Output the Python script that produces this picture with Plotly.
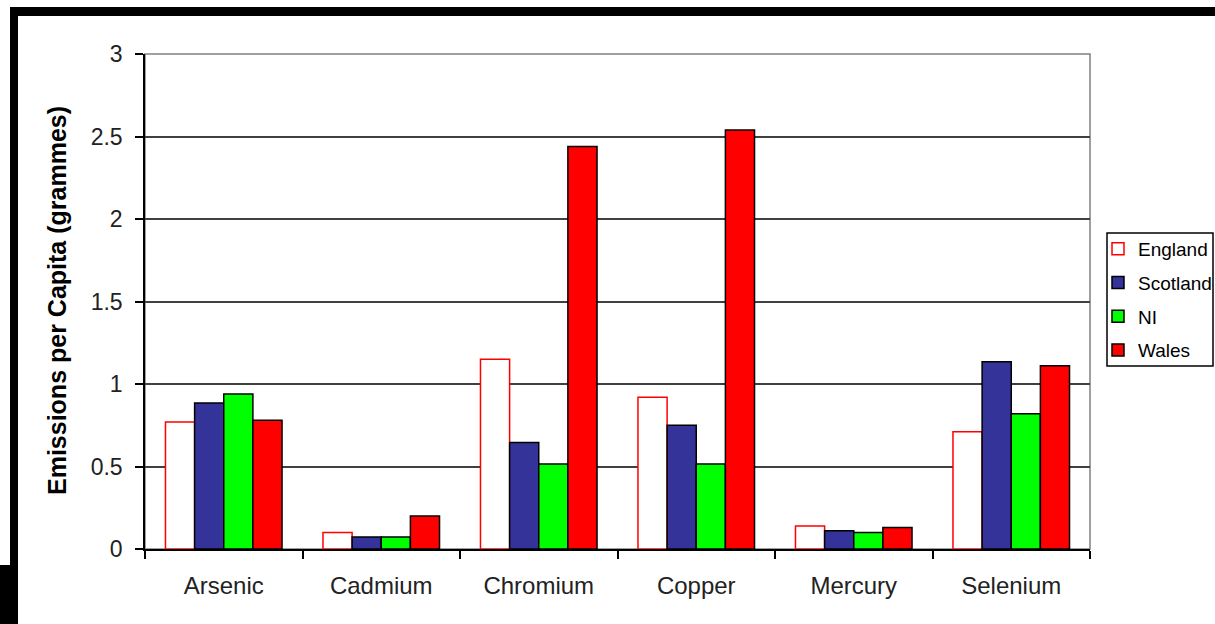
import plotly.graph_objects as go

categories = ["Arsenic", "Cadmium", "Chromium", "Copper", "Mercury", "Selenium"]
england = [0.77, 0.10, 1.15, 0.92, 0.14, 0.71]
scotland = [0.885, 0.073, 0.645, 0.75, 0.11, 1.135]
ni = [0.94, 0.073, 0.515, 0.515, 0.10, 0.82]
wales = [0.78, 0.20, 2.44, 2.54, 0.13, 1.11]
y_ticks = [0, 0.5, 1, 1.5, 2, 2.5, 3]
y_tick_labels = ["0", "0.5", "1", "1.5", "2", "2.5", "3"]

FONT = "Liberation Sans, Arial, sans-serif"

series = [
    ("England", england, "#FFFFFF", "#FF0000"),
    ("Scotland", scotland, "#333399", "#000000"),
    ("NI", ni, "#00FF00", "#000000"),
    ("Wales", wales, "#FF0000", "#000000"),
]

fig = go.Figure()
for name, vals, fill, edge in series:
    fig.add_trace(go.Bar(
        x=categories, y=vals, name=name, legendgroup=name,
        marker=dict(color=fill, line=dict(color=edge, width=1.5)),
    ))

W, H = 1215, 624

# page coordinates -> paper coordinates (plot area spans page x 145..1090, y 54..549)
def px(x):
    return (x - 145) / 945

def py(y):
    return (549 - y) / 495

shapes = [
    dict(type="rect", xref="paper", yref="paper", x0=0, x1=1, y0=0, y1=1,
         line=dict(color="#808080", width=1.5), layer="below"),
    dict(type="rect", xref="paper", yref="paper", x0=px(10), x1=px(1220),
         y0=py(16), y1=py(7), fillcolor="black", line=dict(width=0)),
    dict(type="rect", xref="paper", yref="paper", x0=px(10), x1=px(18),
         y0=py(630), y1=py(7), fillcolor="black", line=dict(width=0)),
    dict(type="rect", xref="paper", yref="paper", x0=px(-2), x1=px(18),
         y0=py(630), y1=py(565), fillcolor="black", line=dict(width=0)),
    dict(type="rect", xref="paper", yref="paper", x0=px(1107), x1=px(1213),
         y0=py(366), y1=py(233), line=dict(color="black", width=1.5),
         fillcolor="rgba(0,0,0,0)"),
]

fig.update_layout(
    width=W, height=H,
    margin=dict(l=145, r=125, t=54, b=75, autoexpand=False),
    paper_bgcolor="white", plot_bgcolor="white",
    barmode="group", bargap=0.26, bargroupgap=0,
    font=dict(family=FONT, size=20, color="black"),
    showlegend=True,
    legend=dict(xref="container", yref="container",
                x=1098 / W, y=1 - 230 / H,
                xanchor="left", yanchor="top",
                bgcolor="rgba(0,0,0,0)", borderwidth=0,
                font=dict(family=FONT, size=19, color="black"),
                traceorder="grouped", tracegroupgap=6, itemwidth=30),
    shapes=shapes,
    annotations=[dict(text="<b>Emissions per Capita (grammes)</b>",
                      xref="paper", yref="paper", x=px(57), y=py(301),
                      textangle=-90, showarrow=False, xanchor="center", yanchor="middle",
                      font=dict(family=FONT, size=25, color="black"))],
    xaxis=dict(
        showline=True, linecolor="black", linewidth=1.5,
        ticks="outside", ticklen=8, tickcolor="black", tickwidth=1.5,
        tickson="boundaries", showgrid=False, ticklabelstandoff=14,
        tickfont=dict(family=FONT, size=24, color="#222222"),
    ),
    yaxis=dict(
        range=[0, 3], tickvals=y_ticks, ticktext=y_tick_labels,
        showline=True, linecolor="black", linewidth=1.5,
        ticks="outside", ticklen=8, tickcolor="black", tickwidth=1.5,
        showgrid=True, gridcolor="#404040", gridwidth=1.5,
        zeroline=False, ticklabelstandoff=8,
        tickfont=dict(family=FONT, size=23, color="#222222"),
    ),
)

fig.write_html("out.html", config={"displayModeBar": False},
               post_script="document.body.style.margin='0';document.body.style.overflow='hidden';")
